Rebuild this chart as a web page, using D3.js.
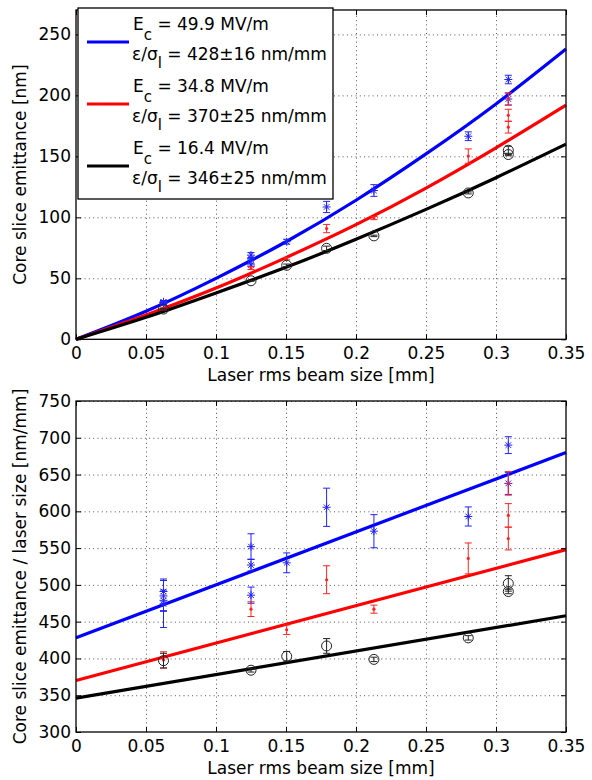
<!DOCTYPE html>
<meta charset="utf-8">
<head>
	<style>
	body { margin: 0; background: #fff; }
	text { font-family: "DejaVu Sans", sans-serif; }
	</style>
	<title>Core slice emittance vs laser rms beam size</title>
</head>
<svg width="592" height="780"></svg>
<script src="https://cdn.jsdelivr.net/npm/d3@7/dist/d3.min.js"></script>
<script>

// x axis (laser rms beam size, mm)
var xTicks = [0, 0.05, 0.1, 0.15, 0.2, 0.25, 0.3, 0.35];
var xTickLabels = ["0", "0.05", "0.1", "0.15", "0.2", "0.25", "0.3", "0.35"];
var topTicks = [0, 50, 100, 150, 200, 250];
var botTicks = [300, 350, 400, 450, 500, 550, 600, 650, 700, 750];

// fitted curves
var fitX = [0, 0.05, 0.1, 0.15, 0.2, 0.25, 0.3, 0.35];
var fitTopBlue = [0, 23, 50, 80, 114, 152, 193, 238];
var fitTopRed = [0, 20, 42, 67, 94, 124, 157, 192];
var fitTopBlack = [0, 18, 38, 59, 82, 106.5, 132.5, 160];
var fitEndX = [0, 0.35];
var fitBotBlue = [428, 680];
var fitBotRed = [370, 548];
var fitBotBlack = [346, 458];

// measurements: blue (49.9 MV/m)
var blueX = [0.0625, 0.0625, 0.0625, 0.0625, 0.125, 0.125, 0.125, 0.1505, 0.179, 0.2128, 0.2802, 0.3088, 0.3088];
var blueTop = [30.7, 30.3, 29.9, 29.6, 69, 66, 61, 80, 108.5, 122, 166.5, 213, 197];
var blueTopErr = [1.1, 1.3, 0.9, 2, 2.2, 1, 1.4, 2, 4.6, 4.8, 3.6, 3.5, 4.9];
var blueBot = [491, 485, 479, 474, 552, 527, 486, 530, 605.5, 573, 593, 690, 638];
var blueBotErr = [17, 21, 14, 32, 17.5, 8, 11, 13.5, 26, 22.5, 13, 11.5, 15];

// measurements: red (34.8 MV/m)
var redX = [0.0625, 0.125, 0.1505, 0.179, 0.2128, 0.2802, 0.3088, 0.3088, 0.3088];
var redTop = [24.9, 58.4, 66.1, 90.8, 99.4, 150.2, 197, 183.7, 173.9];
var redTopErr = [0.7, 1.2, 1, 3.4, 1.3, 5.9, 5, 4.9, 4.8];
var redBot = [398, 467, 439, 507, 467, 536, 638, 594.5, 563];
var redBotErr = [11, 10, 6.5, 19, 5.5, 21, 16, 16, 15.5];

// measurements: black (16.4 MV/m)
var blackX = [0.0625, 0.125, 0.1505, 0.179, 0.2128, 0.2802, 0.3088, 0.3088];
var blackTop = [24.8, 48, 60.7, 74.6, 84.8, 120, 155, 151.5];
var blackTopErr = [0.6, 0.4, 1, 1.8, 0.6, 0.8, 3.3, 1];
var blackBot = [397, 384, 403, 417, 398.7, 428, 502, 491];
var blackBotErr = [10, 2.5, 6.5, 10, 3, 3, 10.5, 3];

var svg = d3.select("svg");
var font = "DejaVu Sans";

var x = d3.scaleLinear().domain([0, 0.35]).range([76, 566]);
var yTop = d3.scaleLinear().domain([0, 270]).range([339.3, 10]);
var yBot = d3.scaleLinear().domain([300, 750]).range([732, 401]);

var asterisk = "M-4,0H4M0,-4V4M-2.8,-2.8L2.8,2.8M-2.8,2.8L2.8,-2.8";

function zip(xs, ys, es) {
    return xs.map(function(v, i) { return {x: v, y: ys[i], e: es ? es[i] : 0}; });
}

function panel(y, yTicks, fits, sets, xlab, ylab) {
    var y0 = y.range()[0], y1 = y.range()[1];
    var x0 = x.range()[0], x1 = x.range()[1];
    var g = svg.append("g");

    // dotted grid
    g.append("g")
        .attr("transform", "translate(0," + y0 + ")")
        .call(d3.axisBottom(x).tickValues(xTicks.slice(1, -1)).tickSize(-(y0 - y1)).tickFormat(""))
        .call(function(a) { a.select(".domain").remove(); })
        .selectAll("line").attr("stroke", "#555").attr("stroke-dasharray", "1,3.3");
    g.append("g")
        .attr("transform", "translate(" + x0 + ",0)")
        .call(d3.axisLeft(y).tickValues(yTicks.filter(function(t) { return t > y.domain()[0]; })).tickSize(-(x1 - x0)).tickFormat(""))
        .call(function(a) { a.select(".domain").remove(); })
        .selectAll("line").attr("stroke", "#555").attr("stroke-dasharray", "1,3.3");

    // fit curves
    var line = d3.line()
        .x(function(d) { return x(d.x); })
        .y(function(d) { return y(d.y); })
        .curve(d3.curveNatural);
    fits.forEach(function(f) {
        g.append("path")
            .datum(zip(f.x, f.y))
            .attr("fill", "none")
            .attr("stroke", f.color)
            .attr("stroke-width", 3.2)
            .attr("d", line);
    });

    // points with error bars
    sets.forEach(function(s) {
        var pts = zip(s.x, s.y, s.e);
        var eb = g.append("g").attr("stroke", s.color).attr("stroke-width", 1).attr("fill", "none");
        eb.selectAll("path.err")
            .data(pts)
            .enter().append("path")
            .attr("class", "err")
            .attr("d", function(d) {
                var cx = x(d.x), hi = y(d.y + d.e), lo = y(d.y - d.e);
                return "M" + cx + "," + hi + "V" + lo +
                    "M" + (cx - 3.5) + "," + hi + "H" + (cx + 3.5) +
                    "M" + (cx - 3.5) + "," + lo + "H" + (cx + 3.5);
            });
        var m = eb.selectAll("g.mk")
            .data(pts)
            .enter().append("g")
            .attr("class", "mk")
            .attr("transform", function(d) { return "translate(" + x(d.x) + "," + y(d.y) + ")"; });
        if (s.marker == "star") {
            m.append("path").attr("d", asterisk);
        } else if (s.marker == "dot") {
            m.append("circle").attr("r", 1.6).attr("fill", s.color).attr("stroke", "none");
        } else {
            m.append("circle").attr("r", 5);
        }
    });

    // frame and inward ticks
    g.append("rect")
        .attr("x", x0).attr("y", y1)
        .attr("width", x1 - x0).attr("height", y0 - y1)
        .attr("fill", "none").attr("stroke", "#000").attr("stroke-width", 1.3);

    var xb = g.append("g")
        .attr("transform", "translate(0," + y0 + ")")
        .call(d3.axisBottom(x).tickValues(xTicks).tickSize(-5).tickPadding(8)
            .tickFormat(function(d, i) { return xTickLabels[i]; }));
    g.append("g")
        .attr("transform", "translate(0," + y1 + ")")
        .call(d3.axisTop(x).tickValues(xTicks).tickSize(-5).tickFormat(""));
    var yl = g.append("g")
        .attr("transform", "translate(" + x0 + ",0)")
        .call(d3.axisLeft(y).tickValues(yTicks).tickSize(-5).tickPadding(5));
    g.append("g")
        .attr("transform", "translate(" + x1 + ",0)")
        .call(d3.axisRight(y).tickValues(yTicks).tickSize(-5).tickFormat(""));
    g.selectAll(".domain").remove();
    g.selectAll(".tick line").filter(function() { return !this.getAttribute("stroke-dasharray"); })
        .attr("stroke", "#000");
    [xb, yl].forEach(function(a) {
        a.attr("font-family", font).attr("font-size", 17);
        a.selectAll("text").attr("fill", "#000");
    });

    svg.append("text")
        .attr("x", (x0 + x1) / 2)
        .attr("y", y0 + 42)
        .attr("text-anchor", "middle")
        .attr("font-size", 17)
        .text(xlab);
    svg.append("text")
        .attr("transform", "translate(26," + (y0 + y1) / 2 + ") rotate(-90)")
        .attr("text-anchor", "middle")
        .attr("font-size", 17)
        .text(ylab);
}

panel(yTop, topTicks,
    [{x: fitX, y: fitTopBlue, color: "#0000ff"},
     {x: fitX, y: fitTopRed, color: "#ff0000"},
     {x: fitX, y: fitTopBlack, color: "#000000"}],
    [{x: blueX, y: blueTop, e: blueTopErr, color: "#2222ff", marker: "star"},
     {x: redX, y: redTop, e: redTopErr, color: "#ff2222", marker: "dot"},
     {x: blackX, y: blackTop, e: blackTopErr, color: "#222", marker: "circle"}],
    "Laser rms beam size [mm]", "Core slice emittance [nm]");

panel(yBot, botTicks,
    [{x: fitEndX, y: fitBotBlue, color: "#0000ff"},
     {x: fitEndX, y: fitBotRed, color: "#ff0000"},
     {x: fitEndX, y: fitBotBlack, color: "#000000"}],
    [{x: blueX, y: blueBot, e: blueBotErr, color: "#2222ff", marker: "star"},
     {x: redX, y: redBot, e: redBotErr, color: "#ff2222", marker: "dot"},
     {x: blackX, y: blackBot, e: blackBotErr, color: "#222", marker: "circle"}],
    "Laser rms beam size [mm]", "Core slice emittance / laser size [nm/mm]");

// legend
var legendField = ["49.9", "34.8", "16.4"];
var legendSlope = ["428\u00b116", "370\u00b125", "346\u00b125"];
var legendColor = ["#0000ff", "#ff0000", "#000000"];

var lg = svg.append("g");
lg.append("rect")
    .attr("x", 78).attr("y", 8)
    .attr("width", 255).attr("height", 191)
    .attr("fill", "#fff").attr("stroke", "#000").attr("stroke-width", 1.3);

legendField.forEach(function(f, i) {
    var top = 8 + i * 62;
    lg.append("line")
        .attr("x1", 87).attr("x2", 129)
        .attr("y1", top + 34).attr("y2", top + 34)
        .attr("stroke", legendColor[i]).attr("stroke-width", 3.2);
    var t1 = lg.append("text").attr("x", 133).attr("y", top + 22).attr("font-size", 17);
    t1.append("tspan").text("E");
    t1.append("tspan").attr("dy", 10).attr("font-size", 15).text("c");
    t1.append("tspan").attr("dy", -10).text(" = " + f + " MV/m");
    var t2 = lg.append("text").attr("x", 132).attr("y", top + 52).attr("font-size", 17);
    t2.append("tspan").text("\u03b5/\u03c3");
    t2.append("tspan").attr("dy", 8).attr("font-size", 15).text("l");
    t2.append("tspan").attr("dy", -8).text(" = " + legendSlope[i] + " nm/mm");
});

</script>
